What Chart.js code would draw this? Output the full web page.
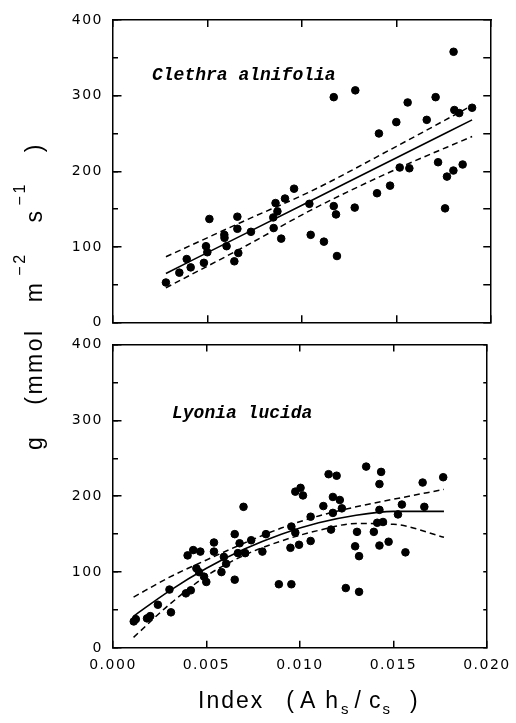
<!DOCTYPE html>
<html>
<head>
<meta charset="utf-8">
<script src="https://cdn.jsdelivr.net/npm/chart.js@4.4.0/dist/chart.umd.min.js"></script>
<style>
html,body{margin:0;padding:0;background:#fff;}
#wrap{position:relative;width:516px;height:723px;overflow:hidden;background:#fff;}
canvas{position:absolute;left:0;}
.title{position:absolute;white-space:nowrap;font-family:"Liberation Sans",Arial,sans-serif;font-size:23px;
  letter-spacing:2px;color:#000;line-height:26px;}
#ytitle{left:21px;top:450px;transform-origin:0 0;transform:rotate(-90deg);letter-spacing:2.5px;}
#ytitle sup{font-size:16px;position:relative;top:-17px;vertical-align:baseline;}
#xtitle{left:198px;top:687px;}
#xtitle sub{font-size:15px;position:relative;top:6px;vertical-align:baseline;}
</style>
</head>
<body>
<div id="wrap">
<canvas id="c1" width="516" height="341" style="top:0"></canvas>
<canvas id="c2" width="516" height="397" style="top:326px"></canvas>
<div id="ytitle" class="title"><span>g</span><span style="margin-left:30px">(mmol</span><span style="margin-left:26px">m</span><sup style="margin-left:5px">−2</sup><span style="margin-left:30px">s</span><sup style="margin-left:3px">−1</sup><span style="margin-left:30px">)</span></div>
<div id="xtitle" class="title"><span>Index</span><span style="margin-left:22px">(</span><span style="margin-left:4px">A</span><span style="margin-left:8px">h</span><sub style="margin-left:1px">s</sub><span style="margin-left:4px">/</span><span style="margin-left:6px">c</span><sub>s</sub><span style="margin-left:18px">)</span></div>
</div>
<script>
// ---- Data: Clethra alnifolia (top panel) ----
const clethraX = [0.0028,0.00351,0.0039,0.00411,0.00481,0.00492,0.00499,0.0051,0.00589,0.0059,
  0.00601,0.00658,0.00658,0.00663,0.00642,0.0073,0.00848,0.0086,0.0087,0.0091,
  0.0085,0.0089,0.00958,0.01039,0.01046,0.01116,0.01168,0.01168,0.0118,0.01185,
  0.01282,0.01279,0.01397,0.01407,0.01466,0.01499,0.01517,0.01568,0.01559,0.0166,
  0.01707,0.0172,0.01757,0.01767,0.01801,0.01802,0.01806,0.01832,0.0185,0.019];
const clethraY = [53,66,84,73,79,101,93,137,116,112,
  101,140,124,92,81,120,139,158,147,164,
  125,111,177,157,116,107,298,154,143,88,
  307,152,171,250,181,265,205,204,291,268,
  298,212,151,193,201,358,281,277,209,284];
const clethraFitX = [0.0028,0.007,0.0105,0.015,0.019];
const clethraFitY = [65,117.6,161.5,218,268];
const clethraUpperY = [87,135,174,233,287];
const clethraLowerY = [46,101,149,203,246];

// ---- Data: Lyonia lucida (bottom panel) ----
const lyoniaX = [0.00111,0.00122,0.00182,0.00199,0.0024,0.00302,0.0031,0.0039,0.00416,0.00399,
  0.00429,0.00467,0.00446,0.0046,0.00487,0.00499,0.0054,0.0054,0.0058,0.00593,
  0.00605,0.00651,0.00651,0.00677,0.00668,0.00698,0.00707,0.00739,0.00799,0.00818,
  0.00887,0.00954,0.00949,0.00954,0.00975,0.00995,0.00975,0.01003,0.01016,0.01057,
  0.01057,0.01125,0.01153,0.01196,0.01176,0.01213,0.01176,0.01224,0.01166,0.01245,
  0.01316,0.01305,0.01295,0.01316,0.01354,0.01395,0.01434,0.01425,0.01425,0.01413,
  0.01444,0.01425,0.01474,0.01524,0.01545,0.01564,0.01656,0.01665,0.01766];
const lyoniaY = [35,38,39,42,57,77,47,72,76,122,
  129,127,105,100,94,87,139,127,100,120,
  111,90,150,138,125,186,125,142,127,150,
  84,84,132,160,152,136,206,211,201,173,
  141,187,229,227,199,195,178,184,156,79,
  74,153,134,121,239,153,232,216,182,165,
  166,135,140,176,189,126,218,186,225];
const lyoniaFitX = [0.0011,0.003,0.005,0.007,0.009,0.011,0.013,0.015,0.0177];
const lyoniaFitY = [42,75,105,130,150,165,175,180,180];
const lyoniaUpperY = [67,93,116,138,158,174,186,196,209];
const lyoniaLowerY = [14,57,95,122,141,155,164,163,146];

// ---- Axis ticks ----
const xTickValues = [0.000,0.005,0.010,0.015,0.020];
const xTickLabels = ['0.000','0.005','0.010','0.015','0.020'];
const yTickLabels = [0,100,200,300,400];
const yAllTicks = [0,50,100,150,200,250,300,350,400];

const pts = (xs, ys) => xs.map((x, i) => ({x, y: ys[i]}));

function labelPlugin(label, lx, ly) {
  return {
    id: 'speciesLabel',
    beforeDraw(chart) { chart.ctx.letterSpacing = '1.5px'; },
    afterDraw(chart) {
      const ctx = chart.ctx, a = chart.chartArea;
      ctx.save();
      ctx.letterSpacing = '0px';
      ctx.fillStyle = '#000';
      ctx.font = 'italic bold 18px "Liberation Mono", "DejaVu Sans Mono", monospace';
      ctx.textBaseline = 'alphabetic';
      ctx.textAlign = 'left';
      ctx.fillText(label, a.left + lx, a.top + ly);
      ctx.restore();
    }
  };
}

const tickFont = {family: '"DejaVu Sans", "Liberation Sans", sans-serif', size: 14};
// grid lines cut into short inner tick marks with a dash pattern
const tickGrid = {display: true, drawOnChartArea: true, drawTicks: false, color: '#000', lineWidth: 1.5};
const frameBorder = dash => ({display: true, color: '#000', width: 1.5, dash});

function makeChart(id, xs, ys, fx, fy, uy, ly, label, lx, lyPos, showXLabels, pad, plotH) {
  const W = 377.25, H = plotH - 0.75;
  return new Chart(document.getElementById(id), {
    type: 'scatter',
    data: {
      datasets: [
        {data: pts(xs, ys), pointRadius: 3.8, pointBackgroundColor: '#000', pointBorderColor: '#000', pointBorderWidth: 1, showLine: false, order: 0},
        {data: pts(fx, fy), showLine: true, borderColor: '#000', borderWidth: 1.6, pointRadius: 0, cubicInterpolationMode: 'monotone', order: 1},
        {data: pts(fx, uy), showLine: true, borderColor: '#000', borderWidth: 1.5, borderDash: [6, 4], pointRadius: 0, cubicInterpolationMode: 'monotone', order: 1},
        {data: pts(fx, ly), showLine: true, borderColor: '#000', borderWidth: 1.5, borderDash: [6, 4], pointRadius: 0, cubicInterpolationMode: 'monotone', order: 1}
      ]
    },
    options: {
      responsive: false, animation: false, devicePixelRatio: 1,
      layout: {padding: pad},
      plugins: {legend: {display: false}, tooltip: {enabled: false}},
      scales: {
        x: {
          type: 'linear', position: 'bottom', min: 0, max: 0.02,
          afterBuildTicks: s => { s.ticks = xTickValues.map(v => ({value: v})); },
          ticks: {display: showXLabels, color: '#000', font: tickFont, padding: showXLabels ? 9 : 0, maxRotation: 0,
            callback: (v, i) => xTickLabels[i]},
          grid: tickGrid, border: frameBorder([7, H - 14, 7, 2000]),
          afterFit: s => { s.height = showXLabels ? 40 : 0; }
        },
        xTop: {
          type: 'linear', position: 'top', min: 0, max: 0.02,
          ticks: {display: false, padding: 0},
          grid: {display: false, drawTicks: false}, border: frameBorder([]),
          afterFit: s => { s.height = 0; }
        },
        y: {
          type: 'linear', position: 'left', min: 0, max: 400,
          afterBuildTicks: s => { s.ticks = yTickLabels.map(v => ({value: v})); },
          ticks: {color: '#000', font: tickFont, padding: 10},
          grid: tickGrid, border: frameBorder([8, 2000]),
          afterFit: s => { s.width = 53; }
        },
        yRight: {
          type: 'linear', position: 'right', min: 0, max: 400,
          afterBuildTicks: s => { s.ticks = yAllTicks.map(v => ({value: v})); },
          ticks: {display: false, padding: 0},
          grid: tickGrid, border: frameBorder([5, W - 12, 7, 2000]),
          afterFit: s => { s.width = 0; }
        }
      }
    },
    plugins: [labelPlugin(label, lx, lyPos)]
  });
}

makeChart('c1', clethraX, clethraY, clethraFitX, clethraFitY, clethraUpperY, clethraLowerY,
  'Clethra alnifolia', 39, 60, false, {left: 60, right: 25, top: 20, bottom: 18}, 303);
makeChart('c2', lyoniaX, lyoniaY, lyoniaFitX, lyoniaFitY, lyoniaUpperY, lyoniaLowerY,
  'Lyonia lucida', 59, 74, true, {left: 60, right: 25, top: 18, bottom: 35}, 304);
</script>
</body>
</html>
